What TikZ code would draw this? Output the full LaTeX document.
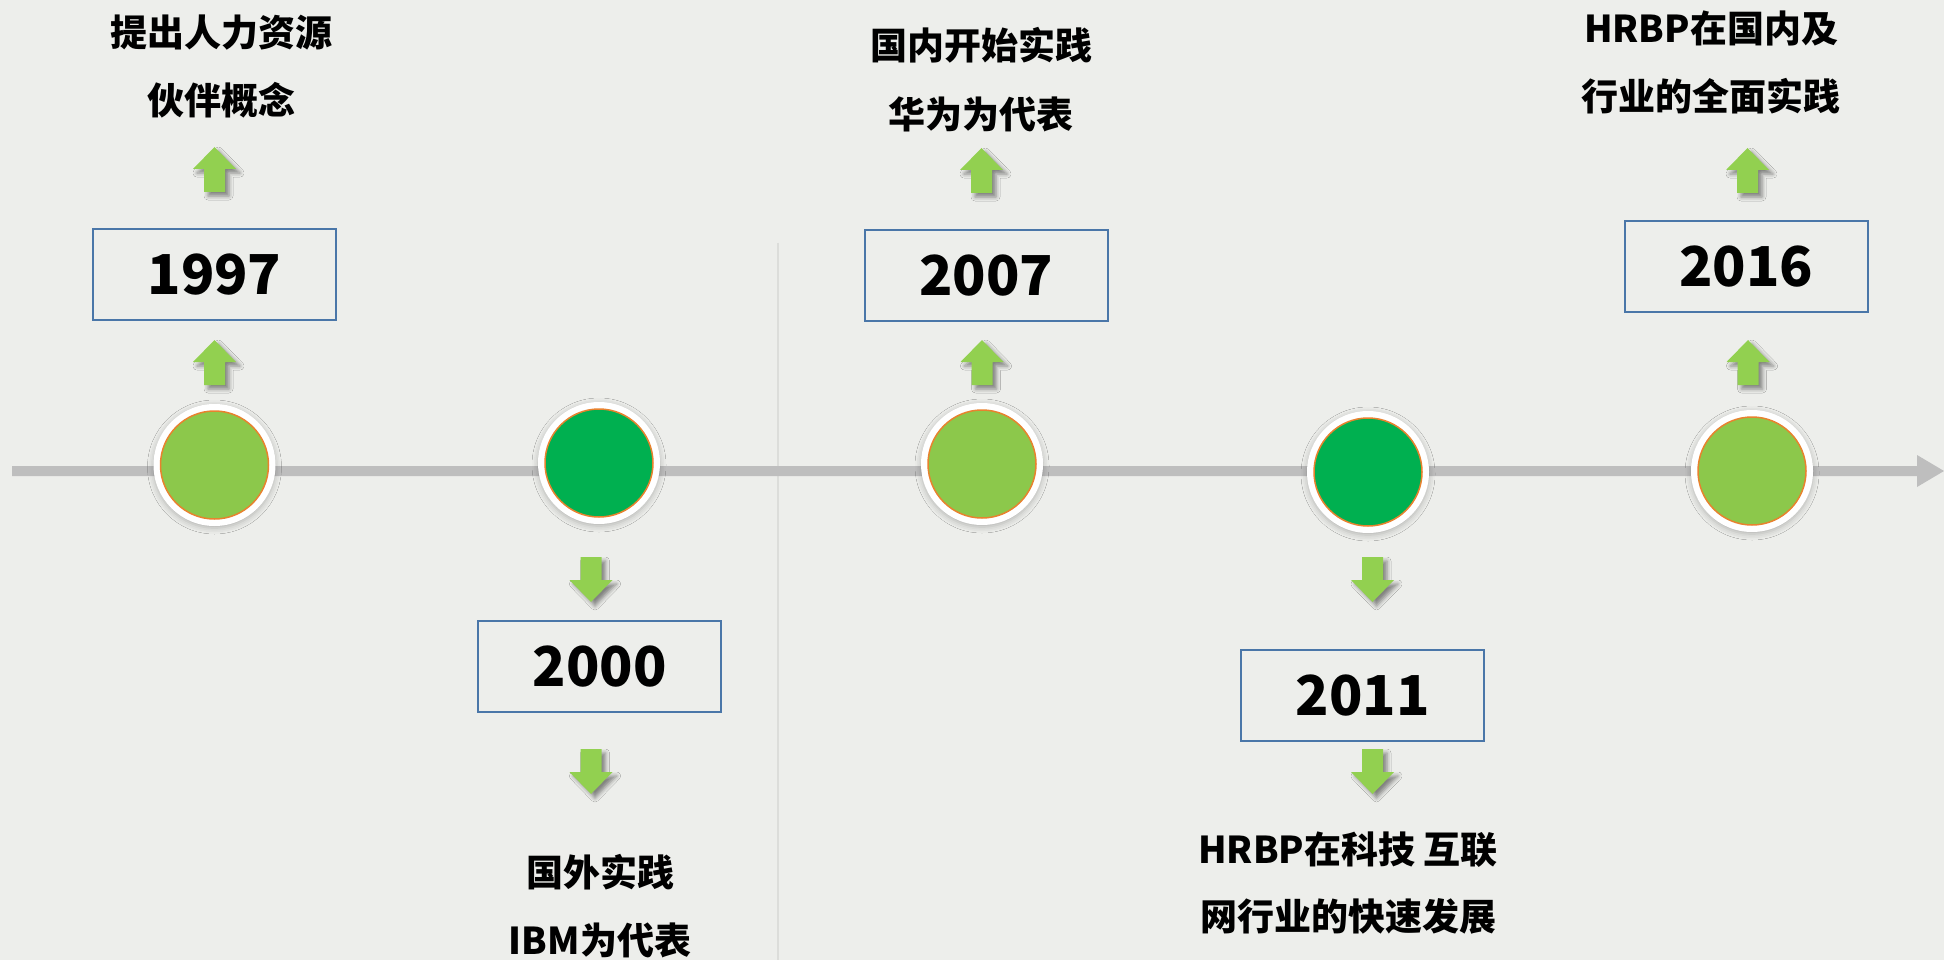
\documentclass[tikz,border=0pt]{standalone}
\usepackage{fontspec}
\setmainfont{Noto Sans CJK SC}
\usetikzlibrary{shadows.blur}
\definecolor{bg}{HTML}{EDEEEB}
\definecolor{lg}{HTML}{8CC84B}
\definecolor{lgd}{HTML}{6CA236}
\definecolor{dg}{HTML}{00B050}
\definecolor{dgd}{HTML}{008A3C}
\definecolor{arr}{HTML}{92D050}
\definecolor{boxb}{HTML}{4A76A8}
\definecolor{tl}{HTML}{BEBEBE}
\definecolor{vl}{HTML}{DCDDDA}
\definecolor{rim}{HTML}{E8822E}
\pgfdeclareradialshading{bevL}{\pgfpoint{0bp}{-2bp}}{color(0bp)=(lg); color(42bp)=(lg); color(50bp)=(lgd); color(60bp)=(lgd)}
\pgfdeclareradialshading{bevD}{\pgfpoint{0bp}{-2bp}}{color(0bp)=(dg); color(42bp)=(dg); color(50bp)=(dgd); color(60bp)=(dgd)}
\tikzset{
  yearbox/.style={draw=boxb, line width=2pt, minimum width=243pt, minimum height=91pt, inner sep=0pt, font=\fontsize{55}{60}\selectfont\bfseries},
  lbl/.style={font=\fontsize{37}{40}\selectfont\bfseries, anchor=base, inner sep=0pt},
  ring/.style={circle, fill=white, minimum size=122pt, inner sep=0pt, blur shadow={shadow xshift=0pt, shadow yshift=-2pt, shadow blur radius=6pt, shadow opacity=25}},
  discL/.style={circle, minimum size=108pt, inner sep=0pt, shade, shading=bevL, draw=rim, line width=1.5pt},
  discD/.style={circle, minimum size=108pt, inner sep=0pt, shade, shading=bevD, draw=rim, line width=1.5pt},
  garrow/.style={fill=arr, blur shadow={shadow xshift=4pt, shadow yshift=-4pt, shadow blur radius=4pt, shadow opacity=45}},
  uparr/.pic={\path[garrow] (0,0) -- (21.5,22) -- (10.5,22) -- (10.5,45) -- (-10.5,45) -- (-10.5,22) -- (-21.5,22) -- cycle;},
  downarr/.pic={\path[garrow] (-10.5,0) -- (10.5,0) -- (10.5,23) -- (21.5,23) -- (0,45) -- (-21.5,23) -- (-10.5,23) -- cycle;}
}
\begin{document}
\begin{tikzpicture}[x=1pt,y=-1pt]
\useasboundingbox (0,0) rectangle (1944,960);
\fill[bg] (0,0) rectangle (1944,960);
% faint vertical divider
\coordinate (vtop) at (778,243);
\coordinate (vbot) at (778,960);
\draw[vl, line width=2pt] (vtop) -- (vbot);
% timeline
\path[fill=tl] (12,466) -- (1917,466) -- (1917,455) -- (1944,471) -- (1917,487) -- (1917,476) -- (12,476) -- cycle;
% circles
\node[ring] (r1) at (214.5,465) {};
\node[discL] (c1) at (214.5,465) {};
\node[ring] (r2) at (599,463) {};
\node[discD] (c2) at (599,463) {};
\node[ring] (r3) at (982,464) {};
\node[discL] (c3) at (982,464) {};
\node[ring] (r4) at (1368,472) {};
\node[discD] (c4) at (1368,472) {};
\node[ring] (r5) at (1752,471) {};
\node[discL] (c5) at (1752,471) {};
% arrows
\pic at (214.5,147) {uparr};
\pic at (214.5,340) {uparr};
\pic at (981.5,148) {uparr};
\pic at (982,340) {uparr};
\pic at (1747.5,148) {uparr};
\pic at (1748,340) {uparr};
\pic at (591,557) {downarr};
\pic at (591,749) {downarr};
\pic at (1372.5,557) {downarr};
\pic at (1372.5,749) {downarr};
% year boxes
\node[yearbox] (b1) at (214.5,274.5) {1997};
\node[yearbox] (b2) at (599.5,666.5) {2000};
\node[yearbox] (b3) at (986,275.5) {2007};
\node[yearbox] (b4) at (1362.5,695.5) {2011};
\node[yearbox] (b5) at (1746,266.5) {2016};
% labels
\node[lbl] (t1a) at (221,47) {提出人力资源};
\node[lbl] (t1b) at (221,115) {伙伴概念};
\node[lbl] (t2a) at (600,886) {国外实践};
\node[lbl] (t2b) at (600,954) {IBM为代表};
\node[lbl] (t3a) at (981,60) {国内开始实践};
\node[lbl] (t3b) at (981,129) {华为为代表};
\node[lbl] (t4a) at (1348,863) {HRBP在科技 互联};
\node[lbl] (t4b) at (1348,930) {网行业的快速发展};
\node[lbl] (t5a) at (1711,43) {HRBP在国内及};
\node[lbl] (t5b) at (1711,111) {行业的全面实践};
\end{tikzpicture}
\end{document}
